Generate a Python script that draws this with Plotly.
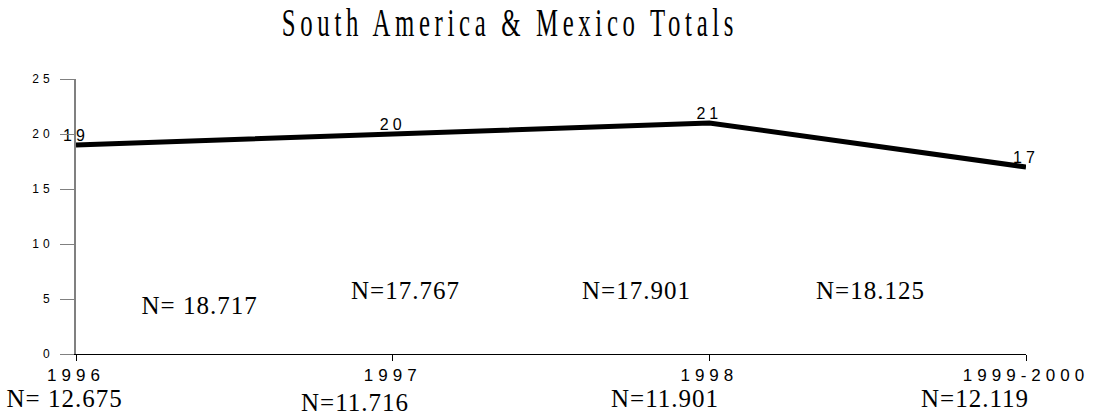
import plotly.graph_objects as go

categories = ["1996", "1997", "1998", "1999-2000"]
values = [19, 20, 21, 17]
value_labels = ["19", "20", "21", "17"]

upper_notes = ["N= 18.717", "N=17.767", "N=17.901", "N=18.125"]
upper_note_x = [0.39, 1.04, 1.77, 2.51]
upper_note_y = [4.4, 5.8, 5.8, 5.8]

lower_notes = ["N= 12.675", "N=11.716", "N=11.901", "N=12.119"]
lower_note_x = [-0.035, 0.88, 1.86, 2.84]
lower_note_y = [-0.16, -0.175, -0.16, -0.16]

n_cat = len(categories)

fig = go.Figure()
fig.add_trace(go.Scatter(
    x=list(range(n_cat)), y=values,
    mode="lines+text", text=value_labels, textposition="top center",
    textfont=dict(family="Liberation Sans, Arial", size=16, color="black"),
    line=dict(color="black", width=5), cliponaxis=False, showlegend=False,
    hoverinfo="skip",
))

for t, x, y in zip(upper_notes, upper_note_x, upper_note_y):
    fig.add_annotation(x=x, y=y, xref="x", yref="y", text=t, showarrow=False,
                       xanchor="center", yanchor="middle",
                       font=dict(family="Liberation Serif", size=25, color="black"))
for t, x, y in zip(lower_notes, lower_note_x, lower_note_y):
    fig.add_annotation(x=x / (n_cat - 1), y=y, xref="paper", yref="paper", text=t, showarrow=False,
                       xanchor="center", yanchor="middle",
                       font=dict(family="Liberation Serif", size=25, color="black"))

fig.update_layout(
    width=1105, height=415, paper_bgcolor="white", plot_bgcolor="white",
    margin=dict(l=76, r=79, t=79, b=61),
    title=dict(text="South America & Mexico Totals", x=510 / 1105, xref="container", xanchor="center",
               y=1 - 22 / 415, yref="container", yanchor="middle",
               font=dict(family="Liberation Serif", size=40, color="black")),
)
fig.update_xaxes(
    tickmode="array", tickvals=list(range(n_cat)), ticktext=categories,
    range=[0, n_cat - 1], showgrid=False, zeroline=False, showline=True, linecolor="black", linewidth=1,
    ticks="outside", ticklen=6, tickcolor="black",
    tickfont=dict(family="Liberation Sans, Arial", size=17, color="black"),
)
fig.update_yaxes(
    range=[0, 25], tickvals=[0, 5, 10, 15, 20, 25], showgrid=False, zeroline=False,
    showline=True, linecolor="#808080", linewidth=2,
    ticks="outside", ticklen=14, tickcolor="#808080", tickwidth=1,
    ticklabelstandoff=4,
    tickfont=dict(family="Liberation Sans, Arial", size=12, color="black"),
)

post = """
document.body.style.margin='0';
function fix(){
  document.querySelectorAll('.xtick text').forEach(function(t){t.style.letterSpacing='5px';});
  document.querySelectorAll('.ytick text').forEach(function(t){t.style.letterSpacing='4px';});
  document.querySelectorAll('.scatterlayer .textpoint text').forEach(function(t){t.style.letterSpacing='4px';});
  document.querySelectorAll('.annotation-text').forEach(function(t){t.style.letterSpacing='1px';});
  document.querySelectorAll('.gtitle').forEach(function(t){
    t.style.letterSpacing='7.5px';
    t.style.transformBox='fill-box';
    t.style.transformOrigin='center';
    t.style.transform='scaleX(0.62)';
  });
}
fix();
var gd = document.getElementsByClassName('plotly-graph-div')[0];
gd.on('plotly_afterplot', fix);
"""
fig.write_html("out.html", post_script=post, config={"displayModeBar": False})
